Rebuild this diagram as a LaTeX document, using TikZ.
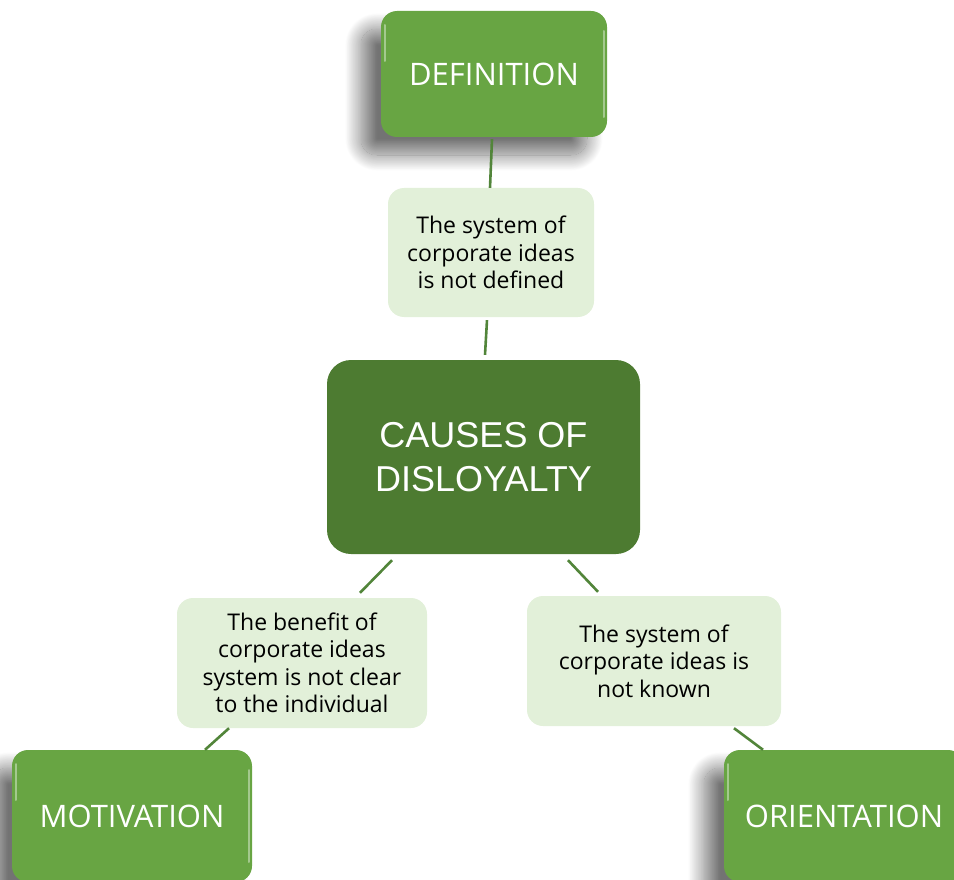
\documentclass[tikz,border=0pt]{standalone}
\usepackage{fontspec}
\setmainfont{Open Sans}
\newfontfamily\capsfont{Liberation Sans}
\usetikzlibrary{shadows.blur}

\definecolor{leafgreen}{HTML}{68A543}
\definecolor{deepgreen}{HTML}{4D7B31}
\definecolor{palegreen}{HTML}{E2F0D9}
\definecolor{linkgreen}{HTML}{52853A}

\tikzset{
  gloss/.style={
    path picture={
      \draw[white, opacity=0.4, line width=2pt, line cap=round]
        ([xshift=3.5pt,yshift=-14pt]path picture bounding box.north west) --
        ([xshift=3.5pt,yshift=-50pt]path picture bounding box.north west);
      \draw[white, opacity=0.4, line width=2pt, line cap=round]
        ([xshift=-3.5pt,yshift=-20pt]path picture bounding box.north east) --
        ([xshift=-3.5pt,yshift=20pt]path picture bounding box.south east);
    }},
  topic/.style={rectangle, rounded corners=16pt, fill=leafgreen, text=white,
    inner sep=0pt, font=\fontsize{31}{36}\selectfont, gloss,
    blur shadow={shadow xshift=-20pt, shadow yshift=-18pt,
      shadow blur radius=16pt, shadow blur steps=24, shadow opacity=55}},
  cause/.style={rectangle, rounded corners=16pt, fill=palegreen, text=black,
    inner sep=0pt, align=center, font=\fontsize{23}{27.5}\selectfont},
  core/.style={rectangle, rounded corners=24pt, fill=deepgreen, text=white,
    inner sep=0pt, align=center, font=\capsfont\fontsize{36}{44}\selectfont},
  link/.style={draw=linkgreen, line width=2.6pt}
}

\begin{document}
\begin{tikzpicture}[x=1pt, y=-1pt]
  \useasboundingbox (0,0) rectangle (954,880);
  \clip (0,0) rectangle (954,880);

  % main topic boxes
  \node[topic, minimum width=226pt, minimum height=126pt] (def) at (494,74) {DEFINITION};
  \node[topic, minimum width=240pt, minimum height=132pt] (mot) at (132,816) {MOTIVATION};
  \node[topic, minimum width=240pt, minimum height=132pt] (ori) at (844,816) {ORIENTATION};

  % central node
  \node[core, minimum width=313pt, minimum height=194pt] (core) at (483.5,457)
    {CAUSES OF\\DISLOYALTY};

  % cause descriptions
  \node[cause, minimum width=206pt, minimum height=129pt] (idea1) at (491,252.5)
    {The system of\\corporate ideas\\is not defined};
  \node[cause, minimum width=250pt, minimum height=130pt] (idea2) at (302,663)
    {The benefit of\\corporate ideas\\system is not clear\\to the individual};
  \node[cause, minimum width=254pt, minimum height=130pt] (idea3) at (654,661)
    {The system of\\corporate ideas is\\not known};

  % connectors
  \draw[link] ([xshift=-2pt,yshift=-2pt]def.south) -- ([xshift=-1pt]idea1.north);
  \draw[link] ([xshift=-4pt,yshift=-3pt]idea1.south) -- ([xshift=1.5pt,yshift=5pt]core.north);
  \draw[link] ([xshift=-91.5pt,yshift=-6pt]core.south) -- ([xshift=58pt,yshift=5pt]idea2.north);
  \draw[link] ([xshift=84.5pt,yshift=-6pt]core.south) -- ([xshift=-56pt,yshift=4pt]idea3.north);
  \draw[link] ([xshift=-73pt]idea2.south) -- ([xshift=73pt]mot.north);
  \draw[link] ([xshift=80pt,yshift=-2pt]idea3.south) -- ([xshift=-81pt]ori.north);
\end{tikzpicture}
\end{document}
